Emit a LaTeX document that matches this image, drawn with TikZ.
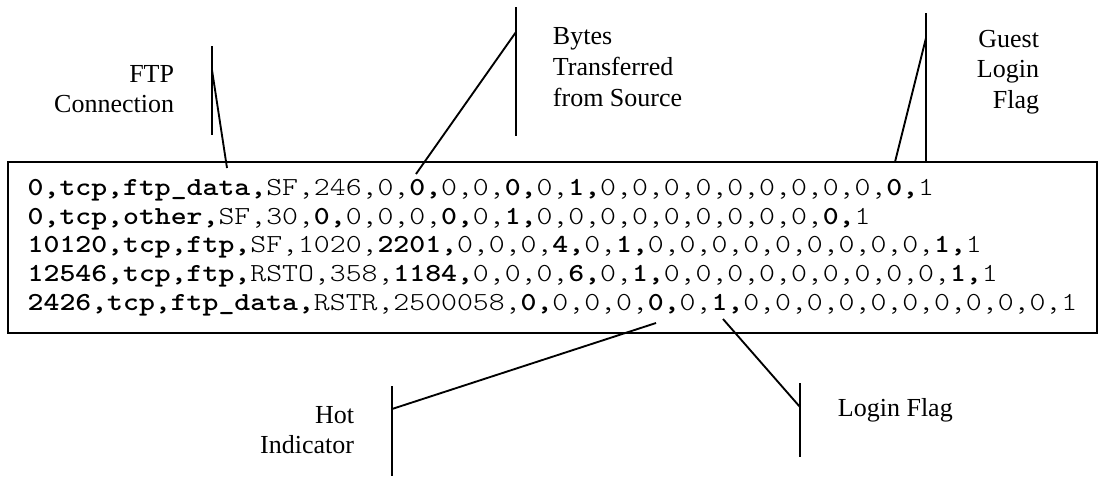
\documentclass[tikz,border=0pt]{standalone}
\usepackage{fontspec}
\setmainfont{Liberation Serif}
\setmonofont{lmmonolt10-regular}[Extension=.otf, BoldFont=lmmonolt10-bold, FakeStretch=1.165]
\usetikzlibrary{positioning}

\begin{document}
\begin{tikzpicture}[x=0.75pt, y=-0.75pt, line width=1.4pt,
		lbl/.style = {inner sep=0pt, font=\fontsize{19.5}{23}\selectfont},
		recbox/.style = {draw, line width=1.5pt, inner sep=0pt, align=left,
			minimum width=816.75pt, minimum height=128.25pt,
			font=\fontsize{19.5}{21.6}\selectfont\ttfamily}]
		\useasboundingbox (0,0) rectangle (1099,476);
		% the records
		\node[recbox] (rec) at (552.5,247.5) {%
			\textbf{0,tcp,ftp\_data,}SF,246,0,\textbf{0,}0,0,\textbf{0,}0,\textbf{1,}0,0,0,0,0,0,0,0,0,\textbf{0,}1\\
			\textbf{0,tcp,other,}SF,30,\textbf{0,}0,0,0,\textbf{0,}0,\textbf{1,}0,0,0,0,0,0,0,0,0,\textbf{0,}1\\
			\textbf{10120,tcp,ftp,}SF,1020,\textbf{2201,}0,0,0,\textbf{4,}0,\textbf{1,}0,0,0,0,0,0,0,0,0,\textbf{1,}1\\
			\textbf{12546,tcp,ftp,}RSTO,358,\textbf{1184,}0,0,0,\textbf{6,}0,\textbf{1,}0,0,0,0,0,0,0,0,0,\textbf{1,}1\\
			\textbf{2426,tcp,ftp\_data,}RSTR,2500058,\textbf{0,}0,0,0,\textbf{0,}0,\textbf{1,}0,0,0,0,0,0,0,0,0,0,1};
		% labels
		\node[lbl, align=right, anchor=east] (ftp) at (175,89) {FTP\\Connection};
		\node[lbl, align=left, anchor=west] (bytes) at (552,67) {Bytes\\Transferred\\from Source};
		\node[lbl, align=right, anchor=east] (guest) at (1040,72) {Guest\\Login\\Flag};
		\node[lbl, align=right, anchor=east] (hot) at (355,430) {Hot\\Indicator};
		\node[lbl, anchor=west] (login) at (837,410) {Login Flag};
		% bars and pointers
		\coordinate (ftpTop) at (212,46);
		\coordinate (ftpBot) at (212,135);
		\coordinate (ftpJoin) at (212,70);
		\coordinate (ftpTip) at (227,168);
		\coordinate (bytesTop) at (516,7);
		\coordinate (bytesBot) at (516,136);
		\coordinate (bytesJoin) at (516,32);
		\coordinate (bytesTip) at (416,174);
		\coordinate (guestTop) at (926,13);
		\coordinate (guestBot) at (926,162);
		\coordinate (guestJoin) at (926,38);
		\coordinate (guestTip) at (895,162);
		\coordinate (hotTop) at (392,386);
		\coordinate (hotBot) at (392,476);
		\coordinate (hotJoin) at (392,409);
		\coordinate (hotTip) at (656,323);
		\coordinate (loginTop) at (800,383);
		\coordinate (loginBot) at (800,457);
		\coordinate (loginJoin) at (800,407);
		\coordinate (loginTip) at (723,319);
		\draw (ftpTop) edge (ftpBot);
		\draw (ftpJoin) edge (ftpTip);
		\draw (bytesTop) edge (bytesBot);
		\draw (bytesJoin) edge (bytesTip);
		\draw (guestTop) edge (guestBot);
		\draw (guestJoin) edge (guestTip);
		\draw (hotTop) edge (hotBot);
		\draw (hotJoin) edge (hotTip);
		\draw (loginTop) edge (loginBot);
		\draw (loginJoin) edge (loginTip);
	\end{tikzpicture}
\end{document}
